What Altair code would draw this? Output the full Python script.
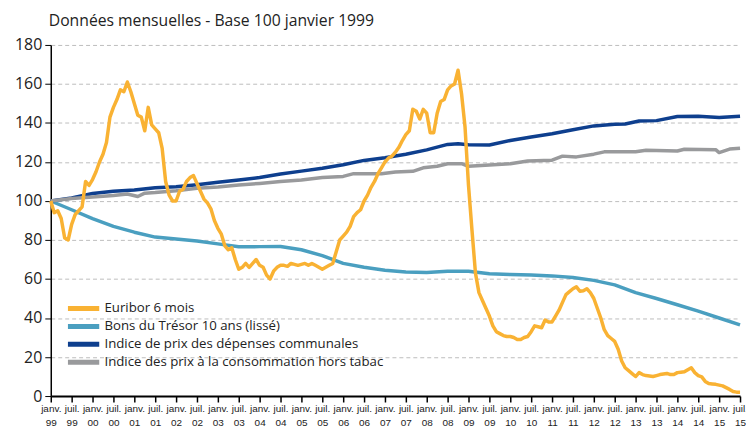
import altair as alt
import pandas as pd

series_names = [
    "Euribor 6 mois",
    "Bons du Trésor 10 ans (lissé)",
    "Indice de prix des dépenses communales",
    "Indice des prix à la consommation hors tabac",
]
series_colors = ["#F9B233", "#4A9FC0", "#0E3F8E", "#999A9C"]

# Month index 0 = janvier 1999 ... 198 = juillet 2015
euribor = [
    100, 94, 95, 91, 81, 80, 88, 93, 95, 97,
    110, 108, 111, 115, 120, 124, 130, 143, 148, 152,
    157, 156, 161, 156, 150, 144, 143, 136, 148, 139,
    137, 135, 127, 110, 103, 100, 100, 105, 106, 110,
    112, 113, 109, 105, 101, 99, 96, 90, 86, 83,
    77, 75, 76, 70, 65, 66, 68, 66, 68, 70,
    67, 66, 62, 60, 64, 66, 67, 67, 66.5, 68,
    67.5, 67, 67.5, 68, 67, 68, 67, 66, 65, 66,
    67, 68, 74, 80, 82, 84, 87, 92, 94, 95.5,
    100, 103, 107, 110, 114, 117, 120, 122, 123, 125,
    127.5, 131, 134, 136, 147, 146, 142, 147, 145, 135,
    135, 145, 151, 152, 157, 159, 160, 167, 155, 138,
    108, 85, 63, 53, 49, 45, 41, 36, 33, 32,
    31, 30.5, 30.5, 30, 29, 29, 30, 30.5, 33, 36,
    35.5, 35, 39, 38, 38, 41, 44, 48, 52, 53.5,
    55, 56, 53.7, 54, 55, 53, 50, 45, 40, 34,
    31, 29.5, 28, 24, 18, 14.5, 13, 11.5, 10, 12,
    11, 10.5, 10.3, 10, 10.5, 11, 11.3, 11.6, 11, 11,
    12, 12.2, 12.4, 13.5, 14.5, 12, 10.5, 9.8, 7.5, 6.4,
    6.2, 6, 5.6, 5.2, 4.3, 3.4, 2.3, 2, 2,
]

bons_months = [0, 6, 12, 18, 24, 30, 36, 42, 48, 54, 60, 66, 72, 78, 84, 90, 96,
               102, 108, 114, 120, 126, 132, 138, 144, 150, 156, 162, 168, 174,
               180, 186, 192, 198]
bons = [100, 95.5, 91, 87, 84, 81.5, 80.5, 79.5, 78, 76.5, 76.6, 76.7, 75, 72,
        68, 66, 64.5, 63.6, 63.3, 64, 64, 62.7, 62.3, 62, 61.6, 60.8, 59.3, 57,
        53, 50, 46.8, 43.5, 40, 36.5]

dep_months = [0, 6, 12, 18, 24, 30, 36, 42, 48, 54, 60, 66, 72, 78, 84, 90, 96,
              102, 108, 114, 117, 120, 126, 132, 138, 144, 150, 156, 162, 165,
              169, 174, 180, 186, 192, 198]
depenses = [100, 101.5, 103.8, 105, 105.6, 106.8, 107.3, 108.3, 109.6, 110.8,
            112, 113.8, 115.3, 116.8, 118.6, 120.8, 122.2, 124, 126.2, 129,
            129.3, 128.8, 128.7, 131, 132.8, 134.5, 136.5, 138.5, 139.3, 139.5,
            141, 141.2, 143.3, 143.4, 142.8, 143.5]

ipc_months = [0, 6, 12, 18, 22, 25, 27, 30, 36, 42, 48, 54, 60, 66, 72, 78, 84,
              87, 95, 99, 104, 107, 111, 114, 118, 120, 126, 132, 137, 144, 147,
              151, 156, 159, 168, 171, 180, 182, 191, 192, 195, 198]
ipc = [100, 101.3, 102, 102.8, 103.6, 102.3, 104, 104.3, 105.2, 106.5, 107.2,
       108.2, 109, 110, 110.8, 112, 112.6, 114, 114, 114.9, 115.2, 117, 117.8,
       119.1, 119.1, 117.8, 118.4, 119.1, 120.5, 120.9, 123, 122.6, 124, 125.2,
       125.2, 126, 125.6, 126.5, 126.3, 124.8, 126.6, 127]

y_ticks = list(range(0, 181, 20))
x_ticks = list(range(0, 199, 6))

frames = [
    pd.DataFrame({"m": list(range(len(euribor))), "v": euribor, "s": series_names[0]}),
    pd.DataFrame({"m": bons_months, "v": bons, "s": series_names[1]}),
    pd.DataFrame({"m": dep_months, "v": depenses, "s": series_names[2]}),
    pd.DataFrame({"m": ipc_months, "v": ipc, "s": series_names[3]}),
]

color = alt.Color(
    "s:N",
    scale=alt.Scale(domain=series_names, range=series_colors),
    legend=alt.Legend(
        title=None, orient="none", legendX=25, legendY=257,
        symbolType="M-3,0H3", symbolStrokeWidth=5, symbolSize=110,
        labelFont="Open Sans", labelFontSize=13.3, labelColor="#222",
        labelLimit=0, rowPadding=-2, labelOffset=13, padding=0,
    ),
)

x = alt.X(
    "m:Q",
    scale=alt.Scale(domain=[0, 198], nice=False, zero=False),
    axis=alt.Axis(
        title=None, values=x_ticks, grid=False,
        labelExpr="[datum.value % 12 == 0 ? 'janv.' : 'juil.', format((1999 + floor(datum.value / 12)) % 100, '02d')]",
        labelFont="Liberation Sans", labelFontSize=10, labelColor="#222",
        labelAngle=0, labelOverlap=False, labelFlush=False, labelBound=False,
        labelLineHeight=14, labelPadding=2,
        tickSize=6, tickColor="black", tickWidth=1.5,
        domainColor="black", domainWidth=2,
    ),
)
y = alt.Y(
    "v:Q",
    scale=alt.Scale(domain=[0, 180], nice=False),
    axis=alt.Axis(
        title=None, values=y_ticks, grid=True, gridDash=[4, 3],
        gridColor="#bdbdbd", gridWidth=1,
        labelFont="Open Sans", labelFontSize=16, labelColor="#222",
        labelPadding=3, tickSize=6, tickColor="black",
        domainColor="black", domainWidth=1.5,
    ),
)

layers = []
for i in [1, 2, 3, 0]:
    layers.append(
        alt.Chart(frames[i]).mark_line(strokeWidth=3.5, strokeJoin="round")
        .encode(x=x, y=y, color=color)
    )

chart = alt.layer(*layers).properties(
    width=693, height=353,
    title=alt.TitleParams(
        "Données mensuelles - Base 100 janvier 1999",
        anchor="start", font="Open Sans", fontSize=15.8, fontWeight="normal",
        color="#222", dx=-2, offset=7, frame="group",
    ),
    autosize=alt.AutoSizeParams(type="none"),
    padding={"left": 43, "top": 36, "right": 6, "bottom": 33},
).configure_view(stroke=None)

chart.save("out.html", embed_options={"renderer": "svg", "actions": False})
